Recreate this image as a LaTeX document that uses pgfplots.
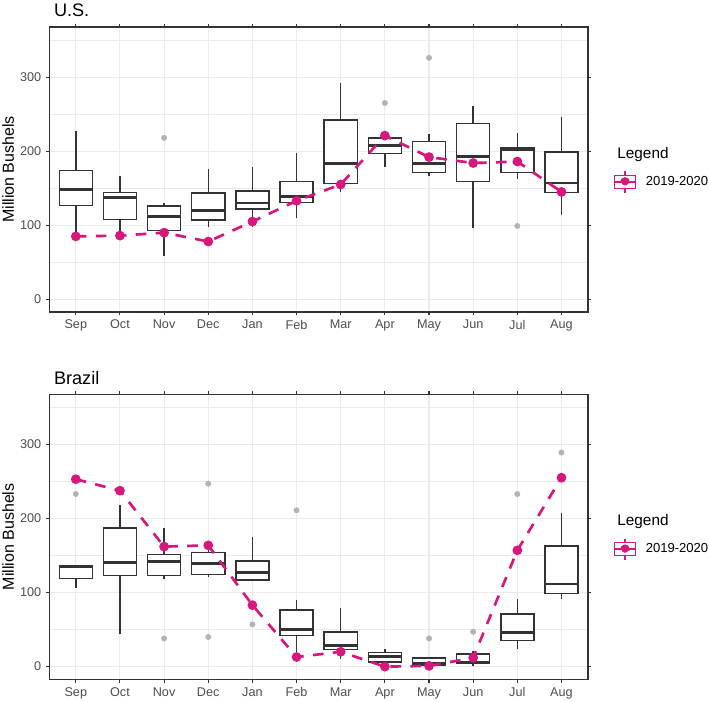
\documentclass[border=0pt]{standalone}
\usepackage{pgfplots}
\pgfplotsset{compat=1.18}
\usepgfplotslibrary{statistics}
\usepackage{fontspec}
\setmainfont{Liberation Sans}

\definecolor{pinkline}{HTML}{D6177B}
\definecolor{grey20}{HTML}{333333}
\definecolor{grey30}{HTML}{4D4D4D}
\definecolor{grey92}{HTML}{EBEBEB}
\definecolor{outlier}{HTML}{B3B3B3}

\pgfplotsset{
  panel/.style={
    width=404pt, height=213.75pt, scale only axis,
    clip mode=individual,
    xmin=0.4, xmax=12.6, ymin=-17.1, ymax=367.6,
    xtick={1,...,12},
    xticklabels={Sep,Oct,Nov,Dec,Jan,Feb,Mar,Apr,May,Jun,Jul,Aug},
    ytick={0,100,200,300},
    minor ytick={50,150,250,350},
    ymajorgrids, yminorgrids, xmajorgrids,
    major grid style={grey92, line width=0.8pt},
    minor grid style={grey92, line width=0.45pt},
    minor tick length=0pt,
    major tick length=2.5pt,
    tick align=outside,
    tick style={grey20, line width=0.8pt},
    axis line style={grey20, line width=0.8pt},
    every tick label/.append style={grey30, font=\fontsize{9.5}{11}\selectfont},
    /pgf/number format/assume math mode=true,
    ylabel={Million Bushels},
    every axis y label/.style={at={(axis description cs:-0.0656,0.5)}, rotate=90, anchor=base, font=\fontsize{12}{14}\selectfont},
    every axis title/.style={at={(axis description cs:0,1)}, anchor=base west, yshift=7.5pt, font=\fontsize{13.6}{16}\selectfont},
    boxplot/draw direction=y,
    boxplot/box extend=0.75,
    boxplot/whisker extend=0,
    boxplot/every median/.style={line width=2.2pt},
    legend style={at={(axis description cs:1.047,0.456)}, anchor=west, draw=none, fill=none, inner sep=0pt,
      font=\fontsize{9.8}{12}\selectfont,
      /tikz/every odd column/.append style={column sep=5pt}},
    legend cell align=left,
    legend image code/.code={
      \draw[pinkline, solid, line width=0.8pt, fill=white] (0pt,-4.9pt) rectangle (15.75pt,4.9pt);
      \draw[pinkline, solid, line width=0.8pt] (7.875pt,4.9pt) -- (7.875pt,8pt) (7.875pt,-4.9pt) -- (7.875pt,-8pt);
      \draw[pinkline, solid, line width=1.4pt] (0pt,0pt) -- (15.75pt,0pt);
      \fill[pinkline] (7.875pt,0pt) circle (2.6pt);
    },
  },
  bx/.style={grey20, line width=1.1pt, fill=white, forget plot, solid},
  outl/.style={only marks, mark=*, mark size=2pt, color=outlier, forget plot},
  season/.style={pinkline, line width=2pt, dash pattern=on 8pt off 7pt, mark=*, mark size=2.6pt, mark options={solid}},
}

% draw position, lower whisker, lower quartile, median, upper quartile, upper whisker
\newcommand\bx[6]{\addplot[bx, boxplot prepared={draw position=#1, lower whisker=#2,
  lower quartile=#3, median=#4, upper quartile=#5, upper whisker=#6}] coordinates {};}

\begin{document}
\begin{tikzpicture}
\useasboundingbox (0,0) rectangle (531.75pt,525.75pt);

% U.S.
\begin{axis}[panel, at={(36.98pt,291.75pt)}, anchor=south west, title={U.S.}]
\bx{1}{86}{127}{148}{174}{227}
\bx{2}{88}{108}{138}{144}{167}
\bx{3}{59}{93}{112}{126}{130}
\bx{4}{98}{107}{120.5}{143.5}{176}
\bx{5}{97}{122}{130}{146}{178}
\bx{6}{110}{131}{138.5}{159}{197}
\bx{7}{145}{156.5}{183}{242}{292}
\bx{8}{179}{197}{208}{218}{218}
\bx{9}{166}{171}{183.5}{213}{223}
\bx{10}{96}{159}{192.5}{237}{261}
\bx{11}{162}{171}{202}{204}{225}
\bx{12}{114}{144}{157}{199}{246}
\addplot[outl] coordinates {(3,218) (8,265) (9,326) (11,99)};
\addplot[season] coordinates {(1,85) (2,86) (3,90) (4,78) (5,105) (6,133)
  (7,155) (8,221) (9,192) (10,184) (11,186) (12,145)};
\addlegendentry{2019-2020}
\node[anchor=base west, font=\fontsize{11.5}{14}\selectfont] at (axis description cs:1.0459,0.5386) {Legend};
\end{axis}

% Brazil
\begin{axis}[panel, at={(36.98pt,16.28pt)}, anchor=south west, title={Brazil}]
\bx{1}{106}{119}{134.5}{136}{136}
\bx{2}{43.6}{123}{141}{187}{218.6}
\bx{3}{118}{123}{141.7}{151.6}{186.7}
\bx{4}{121.5}{124.6}{139}{154}{157}
\bx{5}{115.6}{117}{127}{142.6}{175}
\bx{6}{20}{42.3}{50}{76.5}{90}
\bx{7}{10}{23.4}{28}{47}{79.6}
\bx{8}{6.3}{6.3}{14}{19}{24}
\bx{9}{1.8}{1.8}{4.5}{11.7}{11.7}
\bx{10}{1.3}{4.5}{6.3}{17}{21.6}
\bx{11}{23.4}{35}{46}{71}{91}
\bx{12}{91}{98.5}{111.5}{163}{207}
\addplot[outl] coordinates {(1,233) (3,38) (4,247) (4,40) (5,57) (6,211)
  (9,38) (10,47) (11,233) (12,289)};
\addplot[season] coordinates {(1,253) (2,237.5) (3,162) (4,163.7) (5,83) (6,13)
  (7,20) (8,0) (9,1) (10,12) (11,157) (12,255)};
\addlegendentry{2019-2020}
\node[anchor=base west, font=\fontsize{11.5}{14}\selectfont] at (axis description cs:1.0459,0.5386) {Legend};
\end{axis}
\end{tikzpicture}
\end{document}
